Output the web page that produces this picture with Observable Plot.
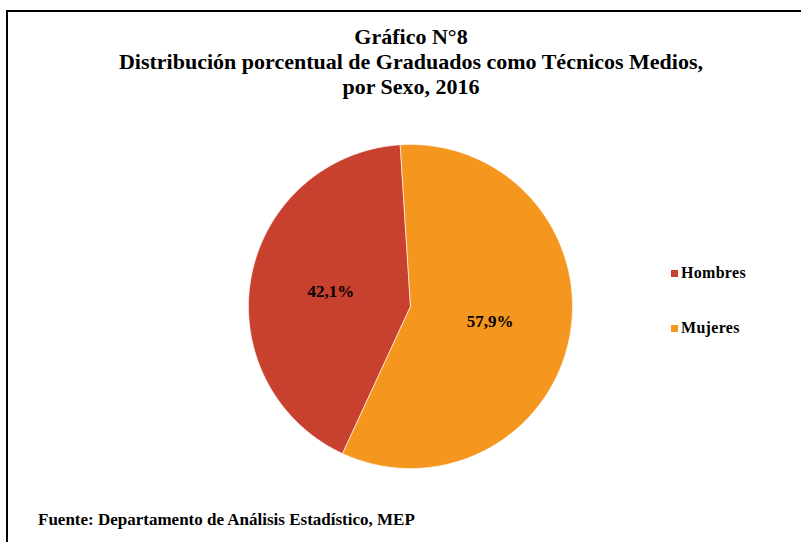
<!DOCTYPE html>
<html>
<head>
<meta charset="utf-8">
<script src="https://cdn.jsdelivr.net/npm/d3@7"></script>
<script src="https://cdn.jsdelivr.net/npm/@observablehq/plot@0.6"></script>
<style>
  html, body { margin: 0; padding: 0; background: #fff; }
  #chart { position: relative; width: 801px; height: 542px; overflow: hidden; font-family: "Liberation Serif", "Times New Roman", serif; font-weight: bold; color: #000; }
  #frame { position: absolute; left: 6px; top: 10px; width: 820px; height: 560px; border: 2px solid #000; box-sizing: border-box; }
  #title { position: absolute; left: 0; width: 822px; top: 24px; text-align: center; font-size: 22px; line-height: 25px; }
  #plot { position: absolute; left: 0; top: 126px; }
  .leg { position: absolute; left: 671px; font-size: 16px; letter-spacing: 0.3px; display: flex; align-items: center; }
  .leg i { display: inline-block; width: 7px; height: 7px; margin-right: 3px; }
  #note { position: absolute; left: 38px; top: 510px; font-size: 17px; }
</style>
</head>
<body>
<div id="chart">
  <div id="frame"></div>
  <div id="title"></div>
  <div id="plot"></div>
  <div id="legend"></div>
  <div id="note"></div>
</div>
<script>
const titleLines = ["Gráfico N°8", "Distribución porcentual de Graduados como Técnicos Medios,", "por Sexo, 2016"];
const footnote = "Fuente: Departamento de Análisis Estadístico, MEP";
const categories = ["Hombres", "Mujeres"];
const values = [42.1, 57.9];
const colors = ["#C8412F", "#F5961F"];
const firstSliceAngle = 204.8; // degrees, clockwise from 12 o'clock

document.getElementById("title").innerHTML = titleLines.map(t => `<div>${t}</div>`).join("");
document.getElementById("note").textContent = footnote;

const legend = document.getElementById("legend");
categories.forEach((c, i) => {
  const d = document.createElement("div");
  d.className = "leg";
  d.style.top = (264 + i * 55) + "px";
  d.innerHTML = `<i style="background:${colors[i]}"></i>${c}`;
  legend.appendChild(d);
});

const a0 = firstSliceAngle * Math.PI / 180;
const arcs = d3.pie().sort(null).startAngle(a0).endAngle(a0 + 2 * Math.PI)(values);

const slices = arcs.map((a, i) => {
  const pts = [{x: 0, y: 0}];
  const n = Math.max(2, Math.ceil((a.endAngle - a.startAngle) / (Math.PI / 360)));
  for (let k = 0; k <= n; k++) {
    const t = a.startAngle + (a.endAngle - a.startAngle) * k / n;
    pts.push({x: Math.sin(t), y: Math.cos(t)});
  }
  pts.push({x: 0, y: 0});
  return {name: categories[i], color: colors[i], pts};
});

const labels = arcs.map((a, i) => {
  const m = (a.startAngle + a.endAngle) / 2;
  return {x: 0.5 * Math.sin(m), y: 0.5 * Math.cos(m), text: values[i].toFixed(1).replace(".", ",") + "%"};
});

const W = 801, H = 360, R = 162, cx = 410, cy = 180;
const plot = Plot.plot({
  width: W, height: H,
  margin: 0,
  x: {domain: [-cx / R, (W - cx) / R], axis: null},
  y: {domain: [-(H - cy) / R, cy / R], axis: null},
  marks: [
    ...slices.map(s => Plot.line(s.pts, {x: "x", y: "y", fill: s.color, stroke: "#ffffff", strokeWidth: 1, strokeOpacity: 0.6, curve: "linear"})),
    Plot.text(labels, {x: "x", y: "y", text: "text", fontSize: 17, fontWeight: "bold", fontFamily: "Liberation Serif", fill: "#000"})
  ]
});
document.getElementById("plot").appendChild(plot);
</script>
</body>
</html>
